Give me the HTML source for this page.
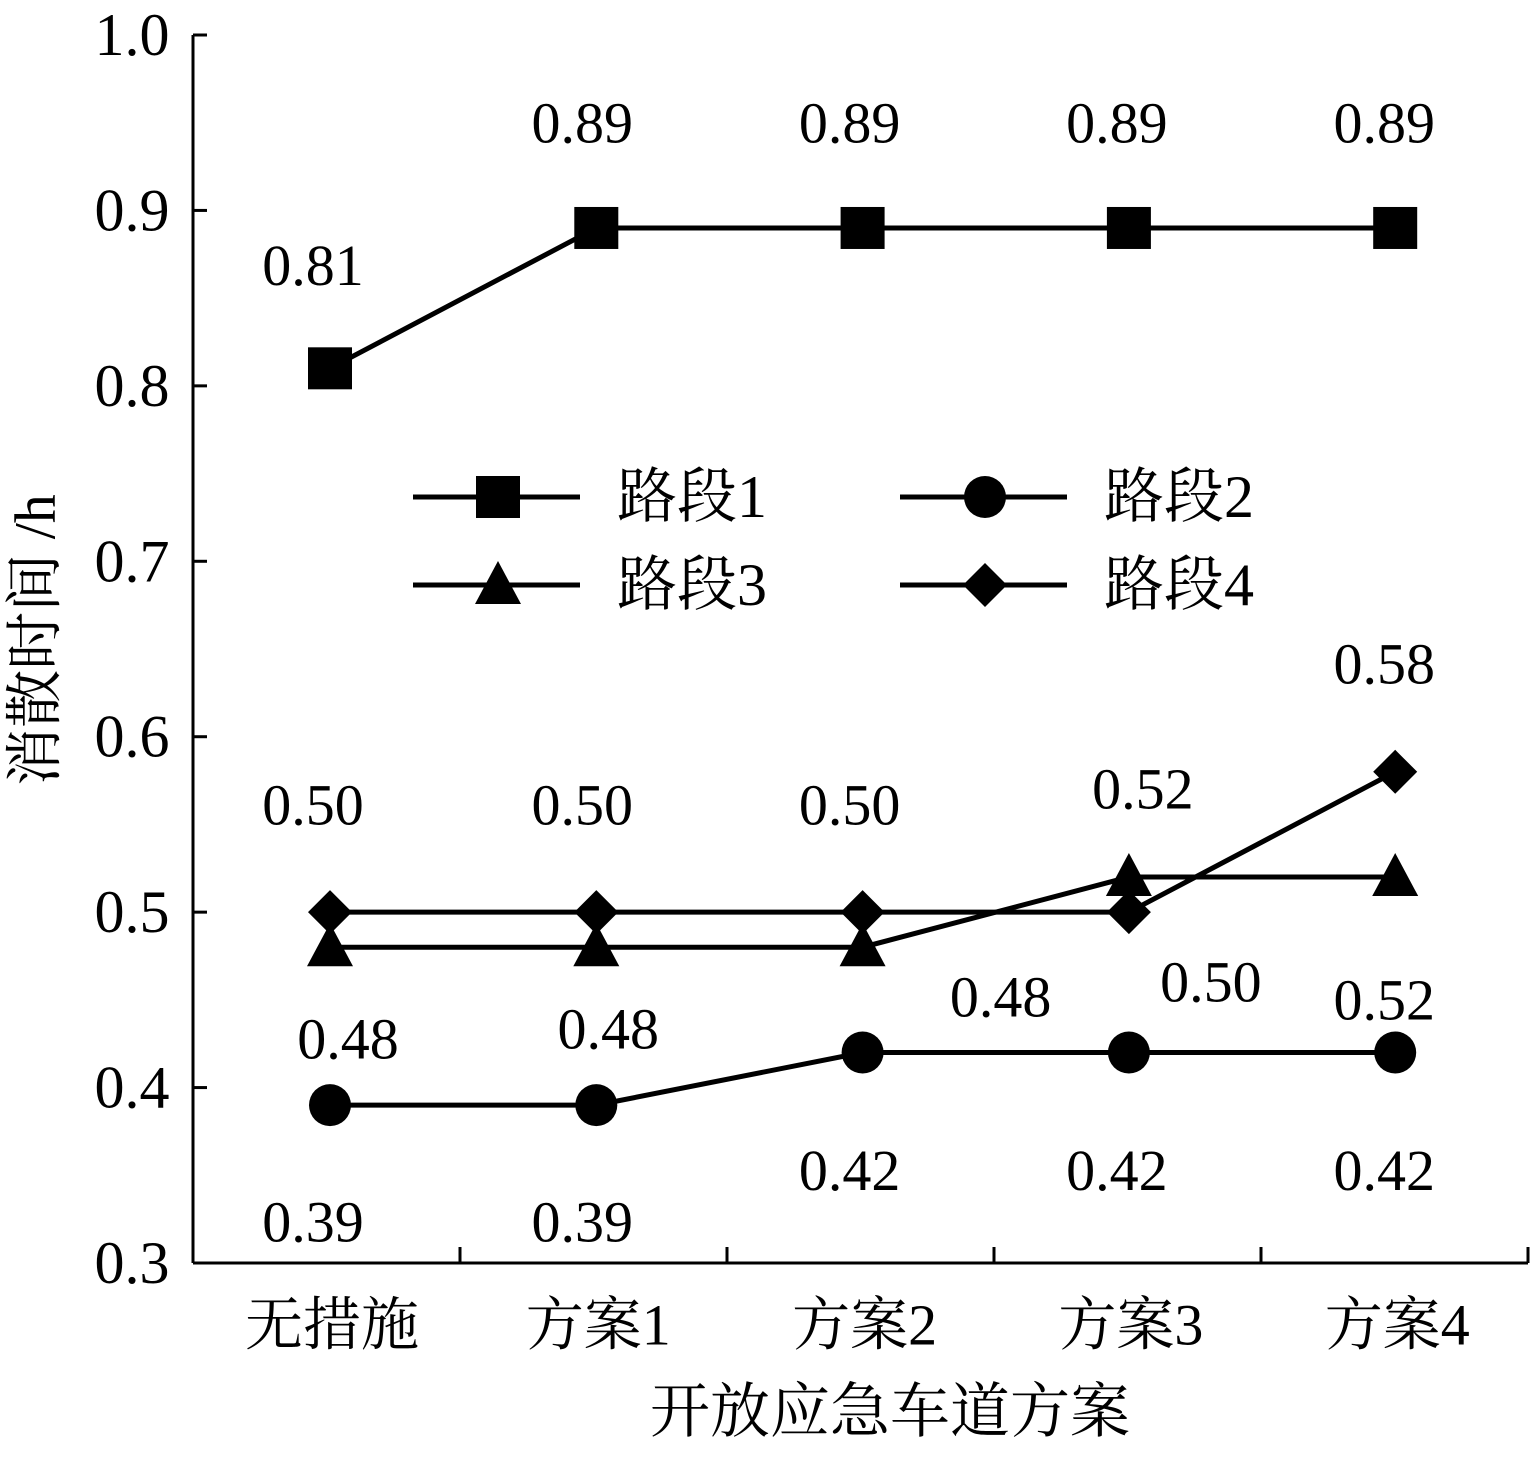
<!DOCTYPE html>
<html><head><meta charset="utf-8"><style>
html,body{margin:0;padding:0;background:#fff;}
svg text{font-family:"Liberation Serif","Noto Serif CJK SC","Noto Sans CJK SC",serif;fill:#000;}
</style></head><body>
<svg id="chart" width="1534" height="1452" viewBox="0 0 1534 1452" xmlns="http://www.w3.org/2000/svg"></svg>
<script>
const categories=["无措施","方案1","方案2","方案3","方案4"];
const yTicks=[0.3,0.4,0.5,0.6,0.7,0.8,0.9,1.0];
const yTickLabels=["0.3","0.4","0.5","0.6","0.7","0.8","0.9","1.0"];
const seriesNames=["路段1","路段2","路段3","路段4"];
const s1=[0.81,0.89,0.89,0.89,0.89];
const s2=[0.39,0.39,0.42,0.42,0.42];
const s3=[0.48,0.48,0.48,0.52,0.52];
const s4=[0.50,0.50,0.50,0.50,0.58];
const labelTexts=["0.81","0.89","0.89","0.89","0.89","0.39","0.39","0.42","0.42","0.42","0.50","0.50","0.50","0.52","0.58","0.48","0.48","0.48","0.50","0.52"];
const svg=document.getElementById('chart');
const NS="http://www.w3.org/2000/svg";
const X0=193,X1=1528,Y0=1263,Y1=35;
const ymin=0.3,ymax=1.0;
function yS(v){return Y0-(v-ymin)/(ymax-ymin)*(Y0-Y1);}
function xS(i){return 330+i*266.3;}
function mk(tag,attrs,name,parent){const e=document.createElementNS(NS,tag);for(const k in attrs)e.setAttribute(k,attrs[k]);


(parent||svg).appendChild(e);return e;}
function txt(x,y,s,size,name,extra){const t=mk('text',Object.assign({x:x,y:y,'font-size':size,'text-anchor':'middle','dominant-baseline':'central'},extra||{}),name);t.textContent=s;return t;}
mk('line',{x1:X0,y1:Y1,x2:X0,y2:Y0,stroke:'#000','stroke-width':3},'y-axis');
mk('line',{x1:X0,y1:Y0,x2:X1,y2:Y0,stroke:'#000','stroke-width':3},'x-axis');
yTicks.forEach((v,i)=>{const y=yS(v);
mk('line',{x1:X0,y1:y,x2:X0+14,y2:y,stroke:'#000','stroke-width':3},'y-tick');
txt(132,y,yTickLabels[i],60,'y-tick-label');});
for(let i=1;i<=categories.length;i++){const x=X0+i*(X1-X0)/categories.length;
mk('line',{x1:x,y1:Y0,x2:x,y2:Y0-16,stroke:'#000','stroke-width':3},'x-tick');}
categories.forEach((c,i)=>txt(xS(i)+2,1325,c,58,'x-tick-label'));
txt(890,1412,"开放应急车道方案",60,'x-axis-title');
txt(35,640,"消散时间 /h",58,'y-axis-title',{transform:'rotate(-90 35 640)'});
function marker(type,x,y,name){
 if(type==0)mk('rect',{x:x-22,y:y-21,width:44,height:42,fill:'#000'},name);
 else if(type==1)mk('circle',{cx:x,cy:y,r:21,fill:'#000'},name);
 else if(type==2)mk('polygon',{points:`${x},${y-24} ${x+23},${y+19} ${x-23},${y+19}`,fill:'#000'},name);
 else mk('polygon',{points:`${x},${y-22} ${x+22},${y} ${x},${y+22} ${x-22},${y}`,fill:'#000'},name);
}
const all=[s1,s2,s3,s4];
all.forEach((s,k)=>{
 mk('polyline',{points:s.map((v,i)=>xS(i)+','+yS(v)).join(' '),fill:'none',stroke:'#000','stroke-width':5},'line-'+seriesNames[k]);
 s.forEach((v,i)=>marker(k,xS(i),yS(v),'point-s'+(k+1)+'-'+i));
});
const labelRefs=[[0,0,-103],[0,1,-105],[0,2,-105],[0,3,-105],[0,4,-105],
[1,0,117],[1,1,117],[1,2,118],[1,3,118],[1,4,118],
[3,0,-107],[3,1,-107],[3,2,-107],[2,3,-88],[3,4,-108],
[2,0,92],[2,1,82],[2,2,50],[3,3,70],[2,4,123]];
const labelDx=[-17,-14,-13,-12,-11,-17,-14,-13,-12,-11,-17,-14,-13,14,-11,18,12,138,82,-11];
labelRefs.forEach((r,j)=>{const v=all[r[0]][r[1]];
 txt(xS(r[1])+labelDx[j],yS(v)+r[2],labelTexts[j],58,'data-label');});
const leg=[[413,497],[900,497],[413,585],[900,585]];
leg.forEach((p,k)=>{
 mk('line',{x1:p[0],y1:p[1],x2:p[0]+167,y2:p[1],stroke:'#000','stroke-width':5},'legend-line');
 marker(k,p[0]+85,p[1],'legend-marker');
 txt(p[0]+204,p[1],seriesNames[k],60,'legend-entry',{'text-anchor':'start'});
});
</script>
</body></html>
